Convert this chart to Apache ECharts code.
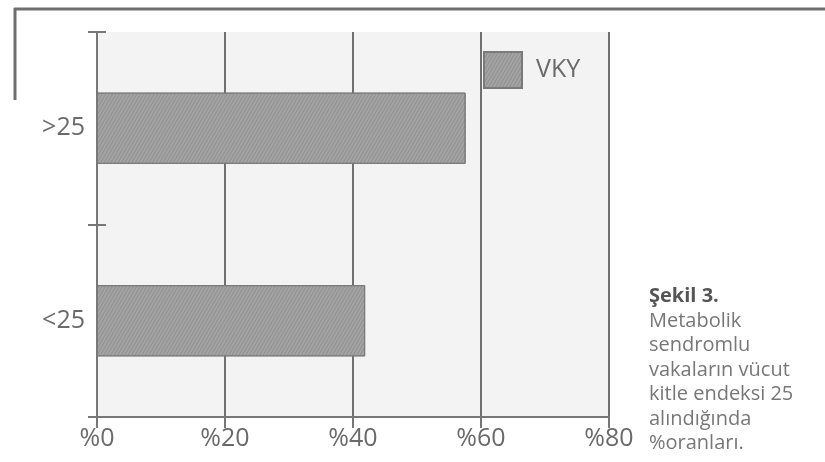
<!DOCTYPE html>
<html>
<head>
<meta charset="utf-8">
<script src="https://cdn.jsdelivr.net/npm/echarts@6/dist/echarts.min.js"></script>
<style>html,body{margin:0;padding:0;background:#fff}#c{width:825px;height:462px}</style>
</head>
<body>
<div id="c"></div>
<script>
var categories = ['>25', '<25'];
var seriesName = 'VKY';
var values = [57.6, 41.9];
var xTicks = [0, 20, 40, 60, 80];
var captionTitle = 'Şekil 3.';
var captionLines = ['Metabolik', 'sendromlu', 'vakaların vücut', 'kitle endeksi 25', 'alındığında', '%oranları.'];

var FONT = '"Open Sans", "Noto Sans", sans-serif';
var chart = echarts.init(document.getElementById('c'), null, {renderer: 'canvas'});
var axisColor = '#777';
var option = {
  animation: false,
  backgroundColor: '#fff',
  grid: {left: 97, right: 216, top: 32, bottom: 45, show: true, backgroundColor: '#f3f3f3', borderWidth: 0},
  legend: {
    show: true, left: 478, top: 46, itemWidth: 38, itemHeight: 36, icon: 'rect', itemGap: 0,
    textStyle: {fontSize: 25, color: '#6a6a6a', fontFamily: FONT, padding: [0, 0, 0, 9]},
    data: [seriesName]
  },
  xAxis: {
    type: 'value', min: xTicks[0], max: xTicks[xTicks.length - 1], interval: 20,
    axisLine: {show: true, lineStyle: {color: axisColor, width: 2}},
    axisTick: {show: true, length: 11, lineStyle: {color: axisColor, width: 2}},
    axisLabel: {formatter: '%{value}', fontSize: 25, color: '#6a6a6a', fontFamily: FONT, margin: 9},
    splitLine: {show: true, lineStyle: {color: '#707070', width: 2}}
  },
  yAxis: [{
    type: 'category', data: categories, inverse: true,
    axisLine: {show: true, lineStyle: {color: axisColor, width: 2}},
    axisTick: {show: true, length: 9, lineStyle: {color: axisColor, width: 2}},
    axisLabel: {fontSize: 25, color: '#6a6a6a', fontFamily: FONT, margin: 12},
    splitLine: {show: false}
  }, {
    type: 'category', data: categories, inverse: true, position: 'left',
    axisLine: {show: false},
    axisTick: {show: true, inside: true, length: 9, lineStyle: {color: axisColor, width: 2}},
    axisLabel: {show: false},
    splitLine: {show: false}
  }],
  series: [{
    name: seriesName, type: 'bar', data: values, yAxisIndex: 0,
    barCategoryGap: '63%',
    itemStyle: {
      color: '#a3a3a3', borderColor: '#7a7a7a', borderWidth: 1,
      decal: {symbol: 'rect', symbolSize: 1, dashArrayX: [1, 0], dashArrayY: [1, 2], rotation: -Math.PI / 3, color: 'rgba(90,90,90,0.25)'}
    }
  }],
  graphic: [
    {type: 'line', shape: {x1: 14, y1: 9, x2: 825, y2: 9}, style: {stroke: '#6f6f6f', lineWidth: 3}},
    {type: 'line', shape: {x1: 15, y1: 8, x2: 15, y2: 100}, style: {stroke: '#6f6f6f', lineWidth: 3}},
    {type: 'text', left: 649, top: 286, style: {text: captionTitle, font: 'bold 20px ' + FONT, fill: '#555'}},
    {type: 'text', left: 649, top: 309, style: {text: captionLines.join('\n'), font: '20px ' + FONT, fill: '#777', lineHeight: 24.5}}
  ]
};
chart.setOption(option);
</script>
</body>
</html>
